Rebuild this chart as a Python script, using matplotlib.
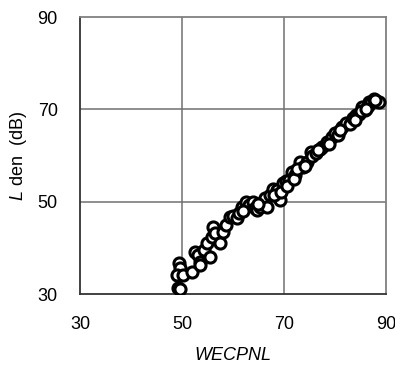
import matplotlib
matplotlib.use('Agg')
import matplotlib.pyplot as plt

plt.rcParams['font.family'] = ['Liberation Sans', 'DejaVu Sans']
plt.rcParams['mathtext.fontset'] = 'custom'
plt.rcParams['mathtext.it'] = 'Liberation Sans:italic'
plt.rcParams['mathtext.rm'] = 'Liberation Sans'

# WECPNL vs Lden
wecpnl = [49.2, 49.4, 49.5, 49.0, 50.1, 49.6, 51.9, 52.5, 53.1, 53.5, 53.5, 54.2,
          54.8, 55.4, 55.8, 56.0, 56.4, 57.4, 58.0, 58.6, 59.3, 60.0, 60.7, 61.2,
          61.7, 62.6, 63.2, 63.8, 64.2, 64.6, 65.2, 65.8, 66.2, 66.7, 67.3, 67.8,
          68.5, 69.1, 69.7, 70.3, 71.0, 71.6, 72.2, 73.0, 73.6, 74.4, 75.3, 75.5,
          76.2, 77.0, 77.5, 78.3, 79.4, 80.0, 80.6, 81.4, 82.2, 82.8, 83.4, 84.0,
          84.6, 85.3, 85.8, 86.4, 86.7, 87.0, 87.5, 88.0, 88.6,
          62.0, 64.9, 68.0, 69.4, 70.6, 71.9, 72.6, 74.0, 76.6, 78.8, 81.0, 83.8,
          85.0, 86.0, 87.8]
lden = [31.3, 36.7, 35.6, 34.1, 34.1, 31.0, 34.8, 39.1, 38.5, 37.0, 36.3, 39.5,
        41.0, 38.0, 42.4, 44.5, 43.2, 41.0, 43.4, 45.0, 46.7, 47.0, 46.5, 47.5,
        48.8, 49.9, 49.3, 50.0, 48.6, 48.2, 48.8, 50.0, 50.8, 48.8, 51.5, 52.8,
        52.5, 50.4, 54.0, 54.5, 54.7, 56.4, 55.8, 58.6, 57.5, 58.6, 60.8, 60.0,
        60.5, 61.5, 61.8, 63.0, 64.0, 64.8, 64.5, 66.2, 67.0, 66.8, 68.1, 68.8,
        69.0, 70.5, 69.9, 70.8, 71.6, 71.6, 72.2, 71.8, 71.6,
        48.0, 49.5, 51.5, 52.2, 53.5, 55.0, 57.0, 57.8, 61.2, 62.5, 65.5, 67.8,
        69.6, 70.2, 72.0]
ticks = [30, 50, 70, 90]

fig = plt.figure(figsize=(3.95, 3.65), dpi=100)
ax = fig.add_axes([0.2025, 0.1945, 0.7755, 0.7585])

ax.plot(wecpnl, lden, 'o', ms=8, mfc='white', mec='black', mew=2.2, zorder=3)

ax.set_xlim(30, 90)
ax.set_ylim(30, 90)
ax.set_xticks(ticks)
ax.set_yticks(ticks)
ax.tick_params(length=0, labelsize=13, pad=16)
for v in [50, 70]:
    ax.axvline(v, color='#707070', lw=1.1, zorder=1)
    ax.axhline(v, color='#707070', lw=1.1, zorder=1)
for side, s in ax.spines.items():
    s.set_color('#333333' if side in ('left', 'bottom') else '#808080')
    s.set_linewidth(1.3)

ax.set_xlabel('WECPNL', fontsize=13, style='italic', labelpad=10)
ax.set_ylabel('$\\mathit{L}$ den  (dB)', fontsize=13, labelpad=6)

fig.savefig('out.png', dpi=100)
